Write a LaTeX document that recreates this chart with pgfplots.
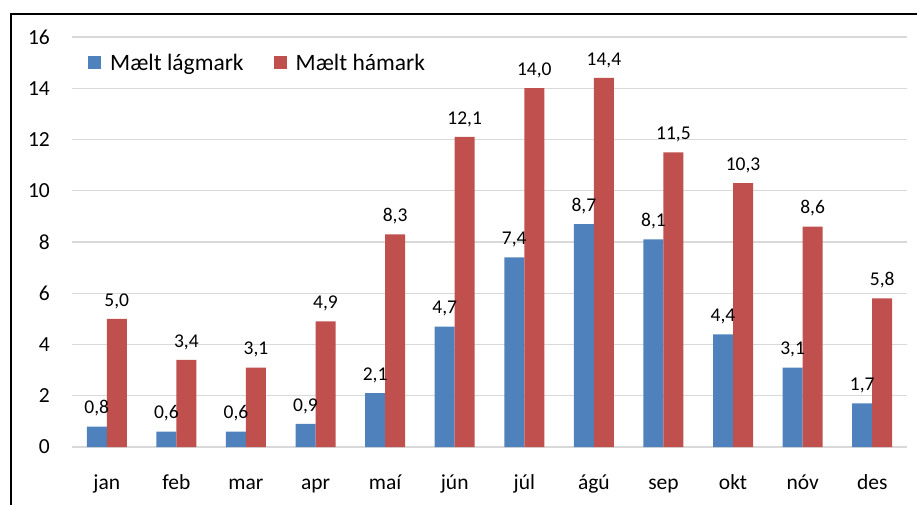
\documentclass[border=0pt]{standalone}
\usepackage{fontspec}
\setmainfont{Carlito}
\usepackage{pgfplots}
\pgfplotsset{compat=1.18}
\definecolor{cblue}{HTML}{4F81BD}
\definecolor{cred}{HTML}{C0504D}
\definecolor{cgrid}{HTML}{D9D9D9}
\begin{document}
\begin{tikzpicture}[x=1pt,y=1pt]
\useasboundingbox (0,0) rectangle (917,504);
\draw[line width=2pt] (11,-2) -- (11,490) -- (919,490);
\begin{axis}[
  at={(72pt,57pt)}, anchor=south west,
  scale only axis, width=835pt, height=410pt,
  xmin=-0.5, xmax=11.5, ymin=0, ymax=16,
  ybar=0pt, bar width=20pt,
  xtick={0,...,11},
  xticklabels={jan,feb,mar,apr,maí,jún,júl,ágú,sep,okt,nóv,des},
  ytick={0,2,...,16},
  ymajorgrids, major grid style={cgrid, line width=1.3pt},
  axis line style={draw=none}, tick style={draw=none},
  /pgf/number format/assume math mode=true,
  ticklabel style={font=\fontsize{21.5}{25}\selectfont},
  yticklabel style={anchor=east, inner sep=0pt, xshift=-22pt},
  xticklabel style={anchor=base, inner sep=0pt, yshift=-38pt},
  nodes near coords,
  nodes near coords style={font=\fontsize{19.5}{23}\selectfont, inner sep=0pt, yshift=10pt,
    /pgf/number format/.cd, fixed, fixed zerofill, precision=1, use comma, assume math mode=true},
  legend columns=2,
  legend style={draw=none, fill=none, at={(0.0192,0.9366)}, anchor=west,
    inner sep=0pt, font=\fontsize{23.5}{27}\selectfont,
    /tikz/every odd column/.append style={column sep=7pt},
    /tikz/every even column/.append style={column sep=28pt}},
  legend image code/.code={\fill[#1] (0pt,-6.5pt) rectangle (13pt,6.5pt);},
]
\addplot[fill=cblue, draw=none] coordinates {
(0,0.8) (1,0.6) (2,0.6) (3,0.9) (4,2.1) (5,4.7) (6,7.4) (7,8.7) (8,8.1) (9,4.4) (10,3.1) (11,1.7)};
\addplot[fill=cred, draw=none] coordinates {
(0,5.0) (1,3.4) (2,3.1) (3,4.9) (4,8.3) (5,12.1) (6,14.0) (7,14.4) (8,11.5) (9,10.3) (10,8.6) (11,5.8)};
\legend{Mælt lágmark, Mælt hámark}
\end{axis}
\end{tikzpicture}
\end{document}
